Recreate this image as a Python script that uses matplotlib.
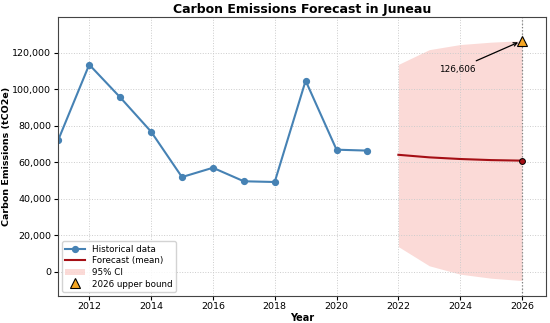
import matplotlib
matplotlib.use("Agg")
import matplotlib.pyplot as plt
from matplotlib.ticker import FuncFormatter

hist_years = [2011, 2012, 2013, 2014, 2015, 2016, 2017, 2018, 2019, 2020, 2021]
hist_vals = [72300, 113500, 95600, 76800, 51900, 57000, 49600, 49200, 104700, 66900, 66400]

fc_years = [2022, 2023, 2024, 2025, 2026]
fc_mean = [64100, 62700, 61800, 61200, 60900]
fc_lower = [13800, 3300, -1300, -3500, -4800]
fc_upper = [113600, 121700, 124500, 125800, 126606]

fig, ax = plt.subplots(figsize=(5.5, 3.23), dpi=100)

ax.plot(hist_years, hist_vals, color="#4682b4", marker="o", markersize=4.2,
        linewidth=1.5, label="Historical data")
ax.plot(fc_years, fc_mean, color="#a50f15", linewidth=1.5, label="Forecast (mean)")
ax.fill_between(fc_years, fc_lower, fc_upper, color="#f5a39b", alpha=0.4,
                linewidth=0, label="95% CI")
ax.axvline(fc_years[-1], color="gray", linestyle=":", linewidth=0.9)
ax.plot([fc_years[-1]], [fc_mean[-1]], marker="o", markersize=4.2,
        color="#a50f15", markeredgecolor="black", markeredgewidth=0.7, linestyle="none")
ax.plot([fc_years[-1]], [fc_upper[-1]], marker="^", markersize=6.5,
        color="#f5a623", markeredgecolor="black", markeredgewidth=0.8,
        linestyle="none", label="2026 upper bound")
ax.annotate(f"{fc_upper[-1]:,}", xy=(fc_years[-1], fc_upper[-1]),
            xytext=(2023.9, 111000), ha="center", va="center", fontsize=6.4,
            arrowprops=dict(arrowstyle="->", color="black", lw=0.9, shrinkA=2, shrinkB=3))

ax.set_xlim(2011, 2026.78)
ax.set_ylim(-13000, 139700)
ax.set_xticks([2012, 2014, 2016, 2018, 2020, 2022, 2024, 2026])
ax.yaxis.set_major_formatter(FuncFormatter(lambda v, p: f"{int(v):,}"))
ax.tick_params(labelsize=6.8, pad=2, length=3)
ax.grid(True, linestyle=":", color="#cccccc", linewidth=0.7)
ax.set_title("Carbon Emissions Forecast in Juneau", fontsize=9.0, fontweight="bold", pad=3)
ax.set_xlabel("Year", fontsize=7, fontweight="bold", labelpad=1)
ax.set_ylabel("Carbon Emissions (tCO2e)", fontsize=6.8, fontweight="bold", labelpad=1)
for s in ax.spines.values():
    s.set_color("#444444")
ax.legend(loc="lower left", fontsize=6.3, borderaxespad=0.4, handlelength=2.2,
          labelspacing=0.3, framealpha=0.85)

fig.subplots_adjust(left=0.106, right=0.993, top=0.948, bottom=0.085)
fig.savefig("out.png", dpi=100)
